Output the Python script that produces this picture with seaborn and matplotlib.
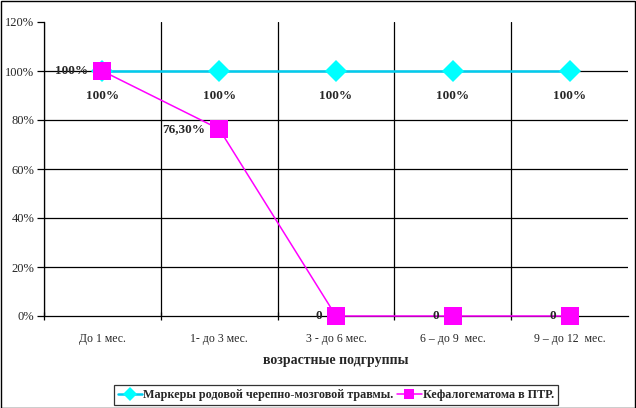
import matplotlib
matplotlib.use("Agg")
import matplotlib.pyplot as plt
import seaborn as sns
import pandas as pd
import numpy as np
from matplotlib.ticker import FixedLocator, PercentFormatter

categories = ["До 1 мес.", "1- до 3 мес.", "3 - до 6 мес.", "6 – до 9  мес.", "9 – до 12  мес."]
series1_name = "Маркеры родовой черепно-мозговой травмы."
series2_name = "Кефалогематома в ПТР."
series1 = [1.0, 1.0, 1.0, 1.0, 1.0]
series2 = [1.0, 0.763, 0.0, 0.0, 0.0]
labels1 = ["100%", "100%", "100%", "100%", "100%"]
labels2 = ["100%", "76,30%", "0", "0", "0"]
xlabel = "возрастные подгруппы"

sns.set_theme(style="white")
plt.rcParams['font.family'] = ['Liberation Serif', 'DejaVu Serif']

df = pd.DataFrame({
    "x": list(range(len(categories))) * 2,
    "v": series1 + series2,
    "s": [series1_name] * len(categories) + [series2_name] * len(categories),
})

fig = plt.figure(figsize=(6.36, 4.08), dpi=100)
ax = fig.add_axes([44/636, 1 - 316/408, 584/636, 294/408])

# horizontal gridlines (not at top)
for yv in np.arange(0.2, 1.01, 0.2):
    ax.axhline(yv, color="black", linewidth=0.9, zorder=1)

sns.lineplot(data=df, x="x", y="v", hue="s", style="s",
             palette={series1_name: "#00CCEE", series2_name: "#FF00FF"},
             markers={series1_name: "D", series2_name: "s"},
             dashes=False, ax=ax, markeredgewidth=0, zorder=3)
for line in ax.get_lines():
    if line.get_marker() == "s":
        line.set_markersize(12.5)
        line.set_linewidth(1.1)
        line.set_clip_on(False)
        line.set_zorder(4)
    elif line.get_marker() == "D":
        line.set_markersize(11)
        line.set_linewidth(1.8)
        line.set_markerfacecolor("#00FFFF")
        line.set_clip_on(False)

ax.set_xlim(-0.5, len(categories) - 0.5)
ax.set_ylim(0, 1.2)
ax.yaxis.set_major_locator(FixedLocator(np.arange(0, 1.21, 0.2)))
ax.yaxis.set_major_formatter(PercentFormatter(1.0, decimals=0))
ax.set_xticks(range(len(categories)))
ax.set_xticklabels(categories)
ax.xaxis.set_minor_locator(FixedLocator(np.arange(-0.5, len(categories) - 0.9, 1.0)))
ax.tick_params(axis="x", which="major", length=0, pad=12, labelsize=8.5)
ax.tick_params(axis="x", which="minor", length=6, direction="inout", color="black", bottom=True, width=0.9)
ax.tick_params(axis="y", which="major", length=5, direction="out", color="black", left=True, labelsize=9, pad=2, width=0.9)
ax.grid(True, which="minor", axis="x", color="black", linewidth=0.9)
ax.grid(False, which="major")
for sp in ax.spines.values():
    sp.set_visible(False)
ax.spines["left"].set_visible(True)
ax.spines["left"].set_color("black")
ax.spines["left"].set_linewidth(0.9)
ax.spines["bottom"].set_visible(True)
ax.spines["bottom"].set_color("black")
ax.spines["bottom"].set_linewidth(0.9)
ax.set_xlabel(xlabel, fontsize=10, fontweight="bold", labelpad=7)
ax.set_ylabel("")

for i, (v, t) in enumerate(zip(series1, labels1)):
    ax.annotate(t, (i, v), xytext=(0, -18), textcoords="offset points",
                ha="center", va="center", fontsize=9.5, fontweight="bold", zorder=5)
for i, (v, t) in enumerate(zip(series2, labels2)):
    ax.annotate(t, (i, v), xytext=(-10, 0), textcoords="offset points",
                ha="right", va="center", fontsize=9.5, fontweight="bold", zorder=5)

leg = ax.legend(loc="center", bbox_to_anchor=(0.5, -0.269), ncol=2,
                frameon=True, fancybox=False, edgecolor="black",
                prop={"weight": "bold", "size": 8.7}, handlelength=2.0,
                handletextpad=0.15, columnspacing=0.3, borderpad=0.3,
                borderaxespad=0, bbox_transform=ax.transAxes)
leg.get_frame().set_linewidth(0.9)
for h in leg.get_lines():
    h.set_markersize(7)

fig.patches.append(plt.Rectangle((0.5/636, 0.5/408), 1 - 1.5/636, 1 - 1.5/408,
                                 transform=fig.transFigure, fill=False,
                                 edgecolor="black", linewidth=1.0))
fig.savefig("out.png", dpi=100)
